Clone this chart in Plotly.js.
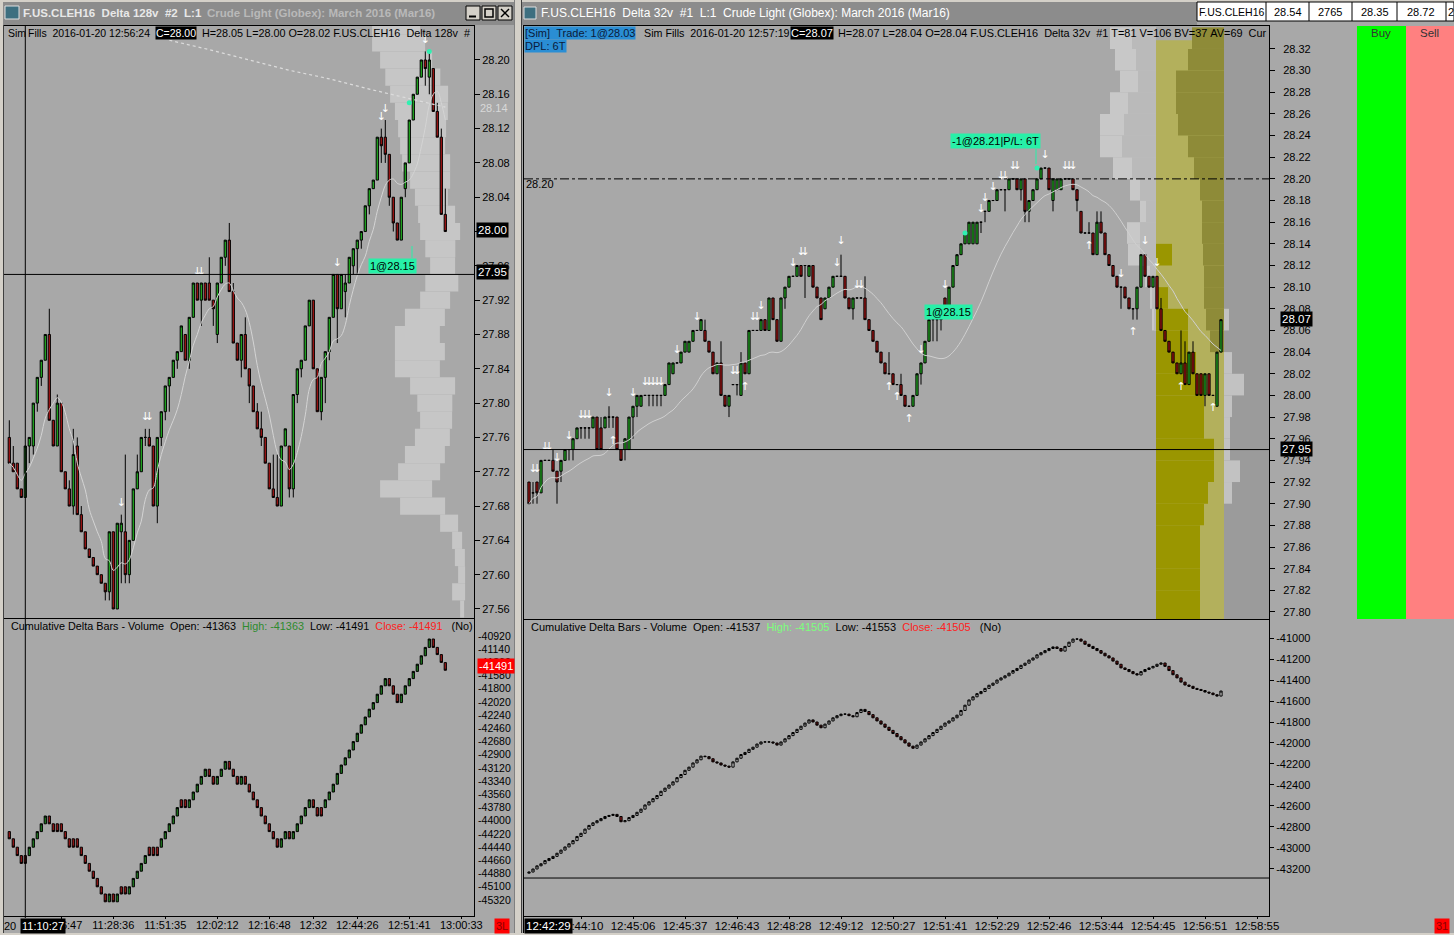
<!DOCTYPE html>
<html><head><meta charset="utf-8">
<script src="https://cdn.plot.ly/plotly-3.0.1.min.js"></script>
<style>html,body{margin:0;padding:0;background:#a8a8a8;overflow:hidden}#chart{width:1454px;height:935px}</style>
</head><body><div id="chart"></div>
<script>
// ================= DATA =================
// Left window: F.US.CLEH16 Delta 128v — price bars
const leftOpen = [27.76,27.73,27.73,27.70,27.69,27.75,27.75,27.80,27.83,27.85,27.88,27.78,27.75,27.80,27.72,27.70,27.68,27.75,27.67,27.65,27.63,27.62,27.61,27.60,27.59,27.58,27.65,27.56,27.65,27.65,27.60,27.64,27.70,27.72,27.76,27.76,27.75,27.68,27.76,27.79,27.82,27.83,27.85,27.86,27.88,27.85,27.90,27.94,27.92,27.94,27.94,27.92,27.88,27.94,27.97,27.99,27.93,27.87,27.85,27.88,27.84,27.82,27.79,27.77,27.76,27.73,27.70,27.69,27.68,27.75,27.75,27.70,27.81,27.84,27.85,27.89,27.92,27.84,27.79,27.83,27.86,27.90,27.95,27.91,27.93,27.94,27.96,27.98,27.99,28.00,28.03,28.05,28.06,28.11,28.11,28.09,28.04,28.01,27.99,28.05,28.08,28.13,28.16,28.18,28.20,28.18,28.19,28.14,28.11,28.02];
const leftHigh = [27.78,27.75,27.73,27.70,27.75,27.76,27.80,27.83,27.85,27.88,27.91,27.78,27.81,27.80,27.72,27.71,27.77,27.76,27.68,27.65,27.63,27.62,27.61,27.60,27.59,27.65,27.65,27.66,27.67,27.74,27.64,27.70,27.74,27.76,27.77,27.77,27.75,27.76,27.79,27.82,27.83,27.85,27.86,27.89,27.88,27.90,27.94,27.94,27.94,27.94,27.97,27.92,27.94,27.97,27.99,28.01,27.94,27.87,27.88,27.90,27.84,27.82,27.80,27.79,27.76,27.73,27.74,27.74,27.75,27.77,27.75,27.81,27.84,27.85,27.89,27.92,27.92,27.84,27.83,27.86,27.90,27.95,27.95,27.95,27.95,27.97,27.98,27.99,28.00,28.03,28.05,28.06,28.11,28.12,28.13,28.09,28.04,28.01,28.04,28.08,28.13,28.16,28.18,28.20,28.21,28.21,28.19,28.15,28.12,28.05];
const leftLow = [27.73,27.72,27.70,27.69,27.69,27.73,27.74,27.79,27.82,27.85,27.78,27.75,27.75,27.72,27.70,27.68,27.67,27.67,27.65,27.63,27.62,27.61,27.60,27.59,27.57,27.57,27.56,27.56,27.59,27.59,27.59,27.64,27.70,27.72,27.75,27.75,27.68,27.66,27.75,27.78,27.79,27.83,27.84,27.86,27.85,27.84,27.90,27.92,27.89,27.92,27.92,27.89,27.87,27.94,27.96,27.93,27.87,27.85,27.83,27.84,27.80,27.79,27.77,27.75,27.73,27.70,27.69,27.68,27.68,27.75,27.69,27.69,27.80,27.83,27.85,27.89,27.84,27.79,27.78,27.80,27.85,27.90,27.87,27.91,27.90,27.94,27.95,27.95,27.98,28.00,28.02,28.05,28.06,28.08,28.08,28.03,28.00,27.99,27.99,28.04,28.08,28.13,28.16,28.18,28.17,28.16,28.14,28.11,28.02,28.00];
const leftClose = [27.73,27.72,27.70,27.69,27.75,27.76,27.80,27.83,27.85,27.88,27.78,27.75,27.80,27.72,27.70,27.68,27.74,27.67,27.65,27.63,27.62,27.61,27.60,27.59,27.58,27.65,27.56,27.66,27.66,27.60,27.64,27.70,27.72,27.76,27.76,27.75,27.68,27.76,27.79,27.82,27.83,27.85,27.86,27.89,27.85,27.90,27.94,27.92,27.94,27.92,27.92,27.91,27.94,27.97,27.99,27.93,27.87,27.85,27.88,27.84,27.82,27.79,27.77,27.76,27.73,27.70,27.69,27.68,27.75,27.77,27.70,27.81,27.84,27.85,27.89,27.92,27.84,27.79,27.83,27.86,27.90,27.95,27.91,27.95,27.94,27.97,27.98,27.99,28.00,28.03,28.05,28.06,28.11,28.10,28.09,28.04,28.01,27.99,28.04,28.08,28.13,28.16,28.18,28.20,28.19,28.20,28.14,28.11,28.02,28.00];
// Left cumulative delta bars
const leftDeltaOpen = [-44180,-44300,-44440,-44580,-44580,-44580,-44440,-44300,-44180,-44050,-43920,-44050,-44050,-44050,-44180,-44300,-44300,-44300,-44440,-44580,-44710,-44840,-44960,-45100,-45220,-45350,-45220,-45350,-45100,-45100,-45220,-45100,-44960,-44840,-44710,-44440,-44440,-44440,-44440,-44300,-44180,-44050,-43920,-43650,-43650,-43780,-43650,-43520,-43390,-43260,-43140,-43260,-43390,-43260,-43140,-43010,-43140,-43260,-43390,-43260,-43390,-43520,-43650,-43780,-43920,-44050,-44180,-44300,-44440,-44300,-44180,-44300,-44180,-44050,-43920,-43780,-43650,-43780,-43780,-43780,-43650,-43520,-43390,-43210,-43070,-42950,-42820,-42680,-42540,-42400,-42270,-42140,-42030,-41890,-41750,-41630,-41750,-41890,-42030,-41890,-41750,-41630,-41510,-41390,-41250,-41110,-40970,-41110,-41230,-41363];
const leftDeltaClose = [-44300,-44440,-44580,-44710,-44710,-44440,-44300,-44180,-44050,-43920,-44050,-44180,-44180,-44180,-44300,-44440,-44440,-44440,-44580,-44710,-44840,-44960,-45100,-45220,-45350,-45220,-45350,-45220,-45220,-45220,-45100,-44960,-44840,-44710,-44580,-44580,-44580,-44580,-44300,-44180,-44050,-43920,-43780,-43780,-43780,-43650,-43520,-43390,-43260,-43140,-43260,-43390,-43260,-43140,-43010,-43140,-43260,-43390,-43260,-43390,-43520,-43650,-43780,-43920,-44050,-44180,-44300,-44440,-44300,-44180,-44300,-44180,-44050,-43920,-43780,-43650,-43780,-43920,-43920,-43650,-43520,-43390,-43210,-43070,-42950,-42820,-42680,-42540,-42400,-42270,-42140,-42030,-41890,-41750,-41630,-41750,-41890,-42030,-41890,-41750,-41630,-41510,-41390,-41250,-41110,-40970,-41110,-41230,-41360,-41491];
// Left dotted reference line (bar index, price)
const leftDotBars = [40,50,60,70,80,90,100,109];
const leftDotVals = [28.223,28.212,28.200,28.188,28.178,28.166,28.155,28.145];
// Left volume profile (price level, start bar, length in bars)
const leftProfPrice = [28.24,28.22,28.20,28.18,28.16,28.14,28.12,28.10,28.08,28.06,28.04,28.02,28.00,27.98,27.96,27.94,27.92,27.90,27.88,27.86,27.84,27.82,27.80,27.78,27.76,27.74,27.72,27.70,27.68,27.66,27.64,27.62,27.60,27.58,27.56];
const leftProfFrom = [90.7,90.7,92.7,94.0,95.2,96.4,97.2,97.7,98.2,100.2,101.4,102.2,102.7,104.0,105.2,104.0,102.7,98.9,96.4,96.4,96.4,100.2,102.0,102.7,101.4,98.9,97.2,92.7,97.7,107.7,110.7,111.4,112.2,110.7,112.7];
const leftProfLen = [12,13.25,13,13.75,14.5,13.25,12,11.25,12,10,8.25,9.25,10,7.5,6.25,8.25,7.5,10,11.25,12.5,11.25,11.25,8.75,8,8.75,10,10.5,13,11.25,4.5,2.5,2.5,1.75,3.25,1];
const leftDownArrows = [28,34,35,47,48,82,93,94,104];
const leftFillBars = [100,105];
const leftFillPrices = [28.15,28.21];
const leftCursorBar = 4;
const leftTimeBars = [13,26,39,52,65,76,87,100,113];
const leftTimeText = ['11:16:47','11:28:36','11:51:35','12:02:12','12:16:48','12:32','12:44:26','12:51:41','13:00:33'];
const leftPriceTicks = [28.20,28.16,28.12,28.08,28.04,28.00,27.96,27.92,27.88,27.84,27.80,27.76,27.72,27.68,27.64,27.60,27.56];
const leftDeltaTicks = [-40920,-41140,-41360,-41580,-41800,-42020,-42240,-42460,-42680,-42900,-43120,-43340,-43560,-43780,-44000,-44220,-44440,-44660,-44880,-45100,-45320];

// Right window: F.US.CLEH16 Delta 32v — price bars
const rightOpen = [27.92,27.91,27.92,27.91,27.94,27.94,27.94,27.93,27.93,27.94,27.95,27.95,27.96,27.97,27.97,27.97,27.97,27.98,27.97,27.97,27.98,27.98,27.98,27.95,27.95,27.95,27.98,27.99,27.99,28.00,28.00,28.00,28.00,28.00,28.00,28.01,28.02,28.03,28.03,28.04,28.04,28.05,28.06,28.06,28.06,28.05,28.04,28.02,28.03,28.00,27.99,28.01,28.01,28.00,28.03,28.02,28.06,28.06,28.06,28.07,28.06,28.09,28.07,28.05,28.09,28.10,28.11,28.11,28.12,28.12,28.11,28.12,28.10,28.09,28.08,28.09,28.10,28.11,28.11,28.11,28.09,28.08,28.09,28.09,28.09,28.07,28.06,28.05,28.04,28.03,28.02,28.02,28.01,28.01,28.00,27.99,27.99,28.00,28.02,28.03,28.05,28.07,28.07,28.07,28.09,28.08,28.10,28.12,28.13,28.14,28.14,28.14,28.14,28.16,28.17,28.17,28.18,28.18,28.19,28.19,28.19,28.20,28.20,28.19,28.20,28.17,28.18,28.19,28.20,28.21,28.21,28.18,28.19,28.19,28.20,28.20,28.20,28.19,28.17,28.15,28.15,28.15,28.13,28.16,28.15,28.13,28.12,28.11,28.10,28.10,28.09,28.08,28.08,28.10,28.13,28.11,28.10,28.11,28.08,28.06,28.05,28.04,28.03,28.02,28.03,28.01,28.04,28.02,28.02,28.00,28.02,28.00,27.99,28.04];
const rightHigh = [27.92,27.92,27.92,27.94,27.94,27.94,27.95,27.93,27.94,27.95,27.95,27.96,27.97,27.97,27.97,27.97,27.98,27.98,27.98,27.98,27.99,27.98,27.98,27.95,27.96,27.98,27.99,28.00,28.00,28.00,28.00,28.00,28.00,28.00,28.01,28.03,28.03,28.03,28.04,28.05,28.05,28.06,28.06,28.07,28.07,28.05,28.04,28.03,28.05,28.00,28.00,28.01,28.01,28.04,28.03,28.06,28.06,28.06,28.07,28.07,28.09,28.09,28.07,28.09,28.10,28.11,28.11,28.12,28.12,28.12,28.12,28.12,28.10,28.09,28.09,28.10,28.11,28.11,28.13,28.11,28.09,28.09,28.09,28.09,28.11,28.07,28.06,28.05,28.04,28.03,28.04,28.02,28.01,28.02,28.00,27.99,28.00,28.02,28.03,28.05,28.07,28.07,28.07,28.08,28.09,28.10,28.12,28.13,28.14,28.15,28.16,28.16,28.16,28.16,28.17,28.18,28.18,28.19,28.19,28.19,28.20,28.20,28.20,28.20,28.20,28.18,28.19,28.20,28.21,28.21,28.21,28.20,28.20,28.20,28.20,28.20,28.20,28.19,28.17,28.15,28.16,28.15,28.17,28.17,28.15,28.13,28.12,28.11,28.10,28.10,28.09,28.08,28.10,28.13,28.13,28.11,28.11,28.11,28.09,28.06,28.05,28.04,28.03,28.06,28.05,28.04,28.05,28.02,28.02,28.02,28.02,28.00,28.04,28.07];
const rightLow = [27.90,27.90,27.90,27.91,27.94,27.94,27.93,27.90,27.92,27.94,27.94,27.94,27.96,27.96,27.96,27.96,27.97,27.95,27.95,27.97,27.97,27.97,27.95,27.94,27.94,27.95,27.96,27.98,27.99,28.00,27.99,27.99,27.99,27.99,28.00,28.01,28.02,28.03,28.03,28.04,28.04,28.05,28.06,28.06,28.05,28.04,28.02,28.02,28.00,27.99,27.98,28.01,28.00,28.00,28.02,28.02,28.06,28.06,28.06,28.06,28.06,28.07,28.05,28.05,28.08,28.10,28.11,28.11,28.11,28.09,28.11,28.10,28.09,28.07,28.08,28.09,28.10,28.11,28.11,28.09,28.08,28.07,28.09,28.09,28.07,28.06,28.05,28.04,28.03,28.02,28.02,28.01,28.01,28.00,27.99,27.99,27.99,28.00,28.01,28.03,28.05,28.05,28.05,28.06,28.08,28.08,28.10,28.12,28.13,28.14,28.14,28.14,28.14,28.15,28.16,28.17,28.18,28.18,28.19,28.17,28.19,28.20,28.19,28.18,28.16,28.16,28.18,28.19,28.20,28.21,28.19,28.17,28.19,28.19,28.20,28.20,28.19,28.17,28.15,28.15,28.15,28.13,28.13,28.15,28.13,28.12,28.11,28.10,28.08,28.09,28.08,28.07,28.07,28.10,28.11,28.10,28.10,28.08,28.06,28.05,28.04,28.03,28.02,28.02,28.01,28.01,28.02,28.00,28.00,27.99,28.00,28.00,27.99,28.04];
const rightClose = [27.90,27.91,27.91,27.94,27.94,27.94,27.93,27.92,27.94,27.95,27.95,27.96,27.97,27.97,27.97,27.97,27.98,27.95,27.95,27.98,27.98,27.98,27.95,27.94,27.96,27.98,27.99,28.00,28.00,28.00,28.00,28.00,28.00,28.00,28.01,28.03,28.03,28.03,28.04,28.05,28.05,28.06,28.06,28.07,28.05,28.04,28.02,28.03,28.00,27.99,28.00,28.01,28.01,28.03,28.02,28.06,28.06,28.06,28.07,28.06,28.09,28.07,28.05,28.09,28.10,28.11,28.11,28.12,28.11,28.12,28.12,28.10,28.09,28.07,28.09,28.10,28.11,28.11,28.11,28.09,28.08,28.09,28.09,28.09,28.07,28.06,28.05,28.04,28.03,28.02,28.02,28.01,28.01,28.00,27.99,27.99,28.00,28.02,28.03,28.05,28.07,28.07,28.07,28.08,28.08,28.10,28.12,28.13,28.14,28.15,28.16,28.16,28.16,28.16,28.17,28.18,28.18,28.19,28.19,28.19,28.20,28.20,28.19,28.20,28.17,28.18,28.19,28.20,28.21,28.21,28.19,28.20,28.20,28.20,28.20,28.20,28.19,28.18,28.15,28.15,28.15,28.13,28.16,28.15,28.13,28.12,28.11,28.10,28.10,28.09,28.08,28.08,28.10,28.13,28.11,28.10,28.11,28.08,28.06,28.05,28.04,28.03,28.02,28.03,28.01,28.04,28.02,28.00,28.00,28.02,28.00,28.00,28.04,28.07];
// Right cumulative delta closes
const rightDeltaClose = [-43229,-43200,-43170,-43150,-43120,-43100,-43080,-43050,-43020,-42990,-42960,-42930,-42890,-42860,-42820,-42785,-42760,-42740,-42720,-42700,-42690,-42680,-42700,-42750,-42740,-42710,-42690,-42660,-42630,-42590,-42560,-42530,-42500,-42460,-42430,-42400,-42370,-42330,-42300,-42260,-42230,-42190,-42160,-42125,-42130,-42150,-42180,-42190,-42210,-42220,-42230,-42180,-42145,-42110,-42090,-42060,-42040,-42010,-41990,-41990,-41990,-42000,-42020,-41990,-41960,-41930,-41900,-41870,-41840,-41810,-41780,-41800,-41830,-41855,-41820,-41790,-41760,-41740,-41725,-41725,-41740,-41750,-41710,-41680,-41700,-41730,-41760,-41790,-41820,-41850,-41880,-41910,-41940,-41970,-42000,-42030,-42050,-42020,-41990,-41960,-41930,-41900,-41870,-41840,-41810,-41790,-41760,-41735,-41690,-41640,-41590,-41560,-41530,-41510,-41480,-41450,-41430,-41400,-41380,-41360,-41335,-41310,-41290,-41260,-41240,-41210,-41190,-41160,-41140,-41120,-41100,-41085,-41100,-41125,-41080,-41040,-41010,-41010,-41030,-41060,-41080,-41100,-41120,-41145,-41170,-41190,-41220,-41250,-41285,-41300,-41320,-41340,-41352,-41320,-41300,-41285,-41270,-41250,-41238,-41270,-41310,-41350,-41380,-41420,-41448,-41460,-41480,-41490,-41500,-41515,-41524,-41540,-41553,-41505];
const rightDeltaFirstOpen = -43240;
const rightDownArrows = [1,2,4,5,7,10,13,14,15,20,26,29,30,31,32,33,37,42,51,52,56,57,58,66,68,69,77,78,82,83,98,104,113,114,116,118,119,121,122,129,134,135,136,148,154,157];
const rightUpArrows = [21,54,90,92,95,140,151,163,171];
const rightFillBars = [109,127];
const rightFillPrices = [28.15,28.21];
// Session (current) profile zone
const zoneStartBar = 157, zoneEndBar = 174;
// Earlier-session profile, left of zone (price, length in bars)
const rightProfPrice = [28.33,28.31,28.29,28.27,28.25,28.23,28.21,28.19,28.17,28.15,28.13,28.11,28.09,28.07];
const rightProfLen = [11.5,10.25,9,11.5,14,14,10.75,6.5,4,7.25,7,2.75,1.5,1];
const rightProfInnerLen = [6,5,4.5,7,8,8.5,6,4,2.5,4,4,1.5,1,0.5];
// Current zone profile: upper (sell side) and lower (buy side)
const zoneTopPrice = [28.33,28.31,28.29,28.27,28.25,28.23,28.21,28.19,28.17,28.15,28.13,28.11,28.09,28.07,28.05];
const zoneTopLen = [8,9,12,12,11.5,9,7.5,6,5.5,5.5,5.25,5,5,4.5,3.5];
const zoneBotPrice = [28.13,28.09,28.07,28.05,28.03,28.01,27.99,27.97,27.95,27.93,27.91,27.89,27.87,27.85,27.83,27.81,27.79];
const zoneBotLen = [4,3,8,8,10,12,12,12,14.5,14.5,13,12,11,11,11,11,11];
const outerPrice = [28.07,28.03,28.01,27.99,27.97,27.95,27.93,27.91];
const outerLen = [1.25,2,5,2,1.5,1.5,4,2];
const rightTimeBars = [13,26,39,52,65,78,91,104,117,130,143,156,169,182];
const rightTimeText = ['12:44:10','12:45:06','12:45:37','12:46:43','12:48:28','12:49:12','12:50:27','12:51:41','12:52:29','12:52:46','12:53:44','12:54:45','12:56:51','12:58:55'];
const rightPriceTicks = [28.32,28.30,28.28,28.26,28.24,28.22,28.20,28.18,28.16,28.14,28.12,28.10,28.08,28.06,28.04,28.02,28.00,27.98,27.96,27.94,27.92,27.90,27.88,27.86,27.84,27.82,27.80];
const rightDeltaTicks = [-41000,-41200,-41400,-41600,-41800,-42000,-42200,-42400,-42600,-42800,-43000,-43200];
// Current-value boxes on the axes
const leftLastPrice = 28.00, leftCursorPrice = 27.95, rightLastPrice = 28.07;

// ================= HELPERS =================
const W = 1454, H = 935;
const P = x => x / W;
const Q = y => 1 - y / H;
const idx = a => a.map((_, i) => i);
function sma(a, n) { return a.map((_, i) => { const s = Math.max(0, i - n + 1); let t = 0; for (let j = s; j <= i; j++) t += a[j]; return t / (i - s + 1); }); }
const FONT = 'Liberation Sans, Arial, sans-serif';
const NB = s => s.replace(/ /g, '\u00a0');
const BG = '#a8a8a8';

const rightDeltaOpen = rightDeltaClose.map((v, i) => i === 0 ? rightDeltaFirstOpen : rightDeltaClose[i - 1]);
const hiOf = (o, c) => o.map((v, i) => Math.max(v, c[i]));
const loOf = (o, c) => o.map((v, i) => Math.min(v, c[i]));

const traces = [];
// Left profile
traces.push({type:'bar', orientation:'h', xaxis:'x', yaxis:'y', y:leftProfPrice, x:leftProfLen, base:leftProfFrom, width:0.02,
  marker:{color:'#c6c6c6', line:{width:0}}, hoverinfo:'skip'});
// Right profiles
traces.push({type:'bar', orientation:'h', xaxis:'x3', yaxis:'y3', y:rightProfPrice, x:rightProfLen.map(v=>-v), base:zoneStartBar-0.25, width:0.02,
  marker:{color:'#c8c8c8', line:{width:0}}, hoverinfo:'skip'});
traces.push({type:'bar', orientation:'h', xaxis:'x3', yaxis:'y3', y:rightProfPrice, x:rightProfInnerLen.map(v=>-v), base:zoneStartBar-0.25, width:0.02,
  marker:{color:'#bababa', line:{width:0}}, hoverinfo:'skip'});
traces.push({type:'bar', orientation:'h', xaxis:'x3', yaxis:'y3', y:zoneTopPrice, x:zoneTopLen.map(v=>-v), base:zoneEndBar-0.25, width:0.02,
  marker:{color:'#8e8b38', line:{width:0}}, hoverinfo:'skip'});
traces.push({type:'bar', orientation:'h', xaxis:'x3', yaxis:'y3', y:zoneBotPrice, x:zoneBotLen, base:zoneStartBar-0.25, width:0.02,
  marker:{color:'#9a9600', line:{width:0}}, hoverinfo:'skip'});
traces.push({type:'bar', orientation:'h', xaxis:'x3', yaxis:'y3', y:outerPrice, x:outerLen, base:zoneEndBar-0.25, width:0.02,
  marker:{color:'#c2c2c2', line:{width:0}}, hoverinfo:'skip'});

// Moving averages / reference lines
traces.push({type:'scatter', mode:'lines', xaxis:'x', yaxis:'y', x:leftDotBars, y:leftDotVals, line:{color:'#dcdcdc', width:1.2, dash:'dot'}, hoverinfo:'skip'});
traces.push({type:'scatter', mode:'lines', xaxis:'x', yaxis:'y', x:idx(leftClose), y:sma(leftClose, 8), line:{color:'#d4d4d4', width:1, shape:'spline'}, hoverinfo:'skip'});
traces.push({type:'scatter', mode:'lines', xaxis:'x3', yaxis:'y3', x:idx(rightClose), y:sma(rightClose, 20), line:{color:'#d0d0d0', width:1, shape:'spline'}, hoverinfo:'skip'});

// Candles
const candle = (xa, ya, o, h, l, c, up, dn) => ({type:'candlestick', xaxis:xa, yaxis:ya, x:idx(o), open:o, high:h, low:l, close:c,
  increasing:{fillcolor:up, line:{color:'#000', width:1}}, decreasing:{fillcolor:dn, line:{color:'#000', width:1}}, whiskerwidth:0, hoverinfo:'skip'});
traces.push(candle('x','y', leftOpen, leftHigh, leftLow, leftClose, '#22b022', '#a51414'));
traces.push(candle('x3','y3', rightOpen, rightHigh, rightLow, rightClose, '#22b022', '#a51414'));
traces.push(candle('x2','y2', leftDeltaOpen, hiOf(leftDeltaOpen,leftDeltaClose), loOf(leftDeltaOpen,leftDeltaClose), leftDeltaClose, '#1e7a1e', '#9c1818'));
traces.push(candle('x4','y4', rightDeltaOpen, hiOf(rightDeltaOpen,rightDeltaClose), loOf(rightDeltaOpen,rightDeltaClose), rightDeltaClose, '#c8c8c8', '#8b1a1a'));

// Arrows
traces.push({type:'scatter', mode:'text', xaxis:'x', yaxis:'y', x:leftDownArrows, y:leftDownArrows.map(k=>leftHigh[k]+0.013), text:leftDownArrows.map(()=>'↓'),
  textfont:{family:'DejaVu Sans', size:11, color:'#ffffff'}, hoverinfo:'skip'});
traces.push({type:'scatter', mode:'text', xaxis:'x3', yaxis:'y3', x:rightDownArrows, y:rightDownArrows.map(k=>rightHigh[k]+0.012), text:rightDownArrows.map(()=>'↓'),
  textfont:{family:'DejaVu Sans', size:11, color:'#ffffff'}, hoverinfo:'skip'});
traces.push({type:'scatter', mode:'text', xaxis:'x3', yaxis:'y3', x:rightUpArrows, y:rightUpArrows.map(k=>rightLow[k]-0.012), text:rightUpArrows.map(()=>'↑'),
  textfont:{family:'DejaVu Sans', size:11, color:'#ffffff'}, hoverinfo:'skip'});
// Fills
traces.push({type:'scatter', mode:'markers', xaxis:'x', yaxis:'y', x:leftFillBars, y:leftFillPrices, marker:{color:'#30f0b0', size:5}, hoverinfo:'skip'});
traces.push({type:'scatter', mode:'markers', xaxis:'x3', yaxis:'y3', x:rightFillBars, y:rightFillPrices, marker:{color:'#30f0b0', size:5}, hoverinfo:'skip'});

// ================= AXES =================
const baseAx = {showgrid:false, zeroline:false, showline:true, mirror:true, linecolor:'#000', linewidth:1, fixedrange:true};
const xNoLab = (dom, rng, anchor) => Object.assign({}, baseAx, {domain:dom, range:rng, anchor, showticklabels:false, ticks:'', rangeslider:{visible:false}});
const xLab = (dom, rng, anchor, tv, tt, fs) => Object.assign({}, baseAx, {domain:dom, range:rng, anchor, tickmode:'array', tickvals:tv, ticktext:tt,
  ticks:'outside', ticklen:2, tickcolor:'#000', ticklabelstandoff:-3, tickfont:{family:FONT, size:fs, color:'#000'}, rangeslider:{visible:false}});
const yAx = (dom, rng, anchor, tv, tt, fs, tl, so) => Object.assign({}, baseAx, {domain:dom, range:rng, anchor, side:'right', tickmode:'array', tickvals:tv, ticktext:tt,
  ticks:tl > 0 ? 'outside' : '', ticklen:tl, tickcolor:'#000', ticklabelstandoff:so, tickfont:{family:FONT, size:fs, color:'#000'}});

const fmtP = v => v.toFixed(2);
const fmtD = v => String(v);
// a tick whose value sits exactly under a value box is drawn by the box instead
const leftPriceText = leftPriceTicks.map(v => Math.abs(v - leftLastPrice) < 1e-9 ? '' : fmtP(v));

const layout = {
  width:W, height:H, margin:{l:0,r:0,t:0,b:0}, paper_bgcolor:BG, plot_bgcolor:BG, showlegend:false, barmode:'overlay', boxgap:0.2,
  xaxis: xNoLab([P(4),P(474)], [-1.325,116.175], 'y'),
  yaxis: yAx([Q(618),Q(26)], [27.5495,28.2396], 'x', leftPriceTicks, leftPriceText, 11, 5, 0),
  xaxis2: xLab([P(4),P(474)], [-1.325,116.175], 'y2', leftTimeBars, leftTimeText, 11),
  yaxis2: yAx([Q(916),Q(619)], [-45586.7,-40636.7], 'x2', leftDeltaTicks, leftDeltaTicks.map(fmtD), 10.5, 0, 1),
  xaxis3: xNoLab([P(524),P(1269)], [-1.25,185], 'y3'),
  yaxis3: yAx([Q(619),Q(26)], [27.7935,28.3412], 'x3', rightPriceTicks, rightPriceTicks.map(fmtP), 11, 5, 6),
  xaxis4: xLab([P(524),P(1269)], [-1.25,185], 'y4', rightTimeBars, rightTimeText, 11.5),
  yaxis4: yAx([Q(916),Q(620)], [-43647.7,-40828.6], 'x4', rightDeltaTicks, rightDeltaTicks.map(fmtD), 11, 4, 0),
  shapes: [], annotations: []
};
const S = layout.shapes, A = layout.annotations;
const rectPx = (x0,y0,x1,y1,fill,line) => S.push({type:'rect', xref:'paper', yref:'paper', x0:P(x0), x1:P(x1), y0:Q(y1), y1:Q(y0), fillcolor:fill, line:line||{width:0}, layer:'above'});
const linePx = (x0,y0,x1,y1,color,w) => S.push({type:'line', xref:'paper', yref:'paper', x0:P(x0), x1:P(x1), y0:Q(y0), y1:Q(y1), line:{color, width:w||1}, layer:'above'});

// Data-referenced zones (below traces)
S.push({type:'rect', xref:'x3', yref:'y3', x0:zoneStartBar-0.25, x1:zoneEndBar-0.25, y0:27.7935, y1:28.328, fillcolor:'#b3b05c', line:{width:0}, layer:'below'});
S.push({type:'rect', xref:'x3', yref:'y3', x0:zoneEndBar-0.25, x1:185, y0:27.7935, y1:28.3412, fillcolor:'#9b9b9b', line:{width:0}, layer:'below'});
// Reference lines
S.push({type:'line', xref:'x domain', yref:'y', x0:0, x1:1, y0:leftCursorPrice, y1:leftCursorPrice, line:{color:'#000', width:1}});
S.push({type:'line', xref:'x3 domain', yref:'y3', x0:0, x1:1, y0:27.95, y1:27.95, line:{color:'#000', width:1}});
S.push({type:'line', xref:'x3 domain', yref:'y3', x0:0, x1:1, y0:28.20, y1:28.20, line:{color:'#000', width:1, dash:'dashdot'}});
S.push({type:'line', xref:'x4 domain', yref:'y4', x0:0, x1:1, y0:-43286, y1:-43286, line:{color:'#000', width:1}});
S.push({type:'line', xref:'x', yref:'paper', x0:leftCursorBar, x1:leftCursorBar, y0:Q(918), y1:Q(26), line:{color:'#000', width:1}});

// Window chrome
rectPx(0,0,515,25,'#8c8c8c');
rectPx(520,0,1197,25,'#8c8c8c');
rectPx(0,0,1454,2,'#d4d0c8');
rectPx(514,0,522,935,'#d4d0c8');
linePx(514.5,0,514.5,935,'#808080',1);
linePx(521.5,0,521.5,935,'#404040',1);
linePx(523.5,25,523.5,935,'#000',1);
rectPx(0,0,3,935,'#d4d0c8');
linePx(3.5,25,3.5,935,'#404040',1);
rectPx(0,933,1454,935,'#d4d0c8');
// title icons
rectPx(5,6,19,19,'#3d6f80',{color:'#e0e0e0',width:1});
rectPx(524,7,536,19,'#3d6f80',{color:'#e0e0e0',width:1});
// title buttons
[[466,480],[482,496],[498,512]].forEach(b=>rectPx(b[0],6,b[1],20,'#d4d0c8',{color:'#000',width:1}));
linePx(469,16.5,476,16.5,'#000',2);
rectPx(485,9,493,17,'rgba(0,0,0,0)',{color:'#000',width:1.5});
linePx(501,9,509,17,'#000',1.5); linePx(509,9,501,17,'#000',1.5);
// top-right quote table
rectPx(1197,2,1454,21,'#ffffff',{color:'#000',width:1});
[1266,1309,1352,1397,1446].forEach(x=>linePx(x,2,x,21,'#000',1));
// Buy / Sell
rectPx(1357,26,1406,619,'#00ff00');
rectPx(1406,26,1454,619,'#ff8080');

// ================= TEXT =================
const ann = (text, x, y, o) => A.push(Object.assign({text:NB(text), xref:'paper', yref:'paper', x:P(x), y:Q(y), xanchor:'left', yanchor:'middle', showarrow:false,
  font:{family:FONT, size:11, color:'#000'}, borderpad:0}, o||{}));
// titles
ann('F.US.CLEH16  Delta 128v  #2  L:1', 22, 13, {font:{family:FONT, size:11.5, color:'#e8e8e8', weight:700}});
ann('Crude Light (Globex): March 2016 (Mar16)', 206, 13, {font:{family:FONT, size:11.5, color:'#b9b9b9', weight:700}});
ann('F.US.CLEH16  Delta 32v  #1  L:1  Crude Light (Globex): March 2016 (Mar16)', 540, 13, {font:{family:FONT, size:12, color:'#ffffff'}});
// table
[['F.US.CLEH16',1232,10.5],['28.54',1288,11],['2765',1330,11],['28.35',1375,11],['28.72',1421,11],['2',1451,11]].forEach(t=>ann(t[0], t[1], 12, {xanchor:'center', font:{family:FONT, size:t[2], color:'#000'}}));
// left header
ann('Sim', 7, 33, {font:{family:FONT, size:10.5, color:'#000'}});
ann('Fills  2016-01-20 12:56:24', 27, 33, {font:{family:FONT, size:10.5, color:'#000'}});
ann('C=28.00', 155, 33, {bgcolor:'#000', font:{family:FONT, size:10.5, color:'#fff'}});
ann('H=28.05 L=28.00 O=28.02 F.US.CLEH16  Delta 128v  #', 201, 33, {font:{family:FONT, size:10.8, color:'#000'}});
// right header
ann('[Sim]  Trade: 1@28.03', 524, 33, {bgcolor:'#2a8ed4', font:{family:FONT, size:11, color:'#0a1a3a'}});
ann('DPL: 6T', 524, 46, {bgcolor:'#2a8ed4', font:{family:FONT, size:11, color:'#0a1a3a'}});
ann('Sim Fills  2016-01-20 12:57:19', 643, 33, {font:{family:FONT, size:10.7, color:'#000'}});
ann('C=28.07', 790, 33, {bgcolor:'#000', font:{family:FONT, size:11, color:'#fff'}});
ann('H=28.07 L=28.04 O=28.04 F.US.CLEH16  Delta 32v  #1 T=81 V=106 BV=37 AV=69  Cur', 837, 33, {font:{family:FONT, size:10.9, color:'#000'}});
ann('Buy', 1381, 33, {xanchor:'center', font:{family:FONT, size:11.5, color:'#333'}});
ann('Sell', 1429, 33, {xanchor:'center', font:{family:FONT, size:11.5, color:'#333'}});
// delta headers
A.push({text:NB('Cumulative Delta Bars - Volume  Open: -41363  ')+'<span style="color:#2e8b2e">'+NB('High: -41363')+'</span>'+NB('  Low: -41491  ')+'<span style="color:#ff2020">'+NB('Close: -41491')+'</span>'+NB('   (No)'),
  xref:'paper', yref:'paper', x:P(9), y:Q(626), xanchor:'left', yanchor:'middle', showarrow:false, font:{family:FONT, size:10.8, color:'#000'}});
A.push({text:NB('Cumulative Delta Bars - Volume  Open: -41537  ')+'<span style="color:#7cff7c">'+NB('High: -41505')+'</span>'+NB('  Low: -41553  ')+'<span style="color:#ff2020">'+NB('Close: -41505')+'</span>'+NB('   (No)'),
  xref:'paper', yref:'paper', x:P(529), y:Q(627), xanchor:'left', yanchor:'middle', showarrow:false, font:{family:FONT, size:11, color:'#000'}});
// axis value boxes
ann('28.14', 479, 108, {font:{family:FONT, size:11, color:'#d8d8d8'}});
ann(fmtP(leftLastPrice), 476, 230, {bgcolor:'#000', borderpad:1, font:{family:FONT, size:11.5, color:'#fff'}});
ann(fmtP(leftCursorPrice), 476, 272, {bgcolor:'#000', borderpad:1, font:{family:FONT, size:11.5, color:'#fff'}});
ann('-41491', 477, 666, {bgcolor:'#ff0000', borderpad:1, font:{family:FONT, size:11, color:'#fff'}});
ann(fmtP(rightLastPrice), 1280, 319, {bgcolor:'#000', borderpad:1, font:{family:FONT, size:11.5, color:'#fff'}});
ann('27.95', 1280, 449, {bgcolor:'#000', borderpad:1, font:{family:FONT, size:11.5, color:'#fff'}});
ann('28.20', 525, 184, {font:{family:FONT, size:11, color:'#000'}});
// trade labels
ann('1@28.15', 368, 266, {bgcolor:'#28f0a8', borderpad:1, font:{family:FONT, size:11, color:'#000'}});
ann('1@28.15', 924, 312, {bgcolor:'#28f0a8', borderpad:1, font:{family:FONT, size:11, color:'#000'}});
ann('-1@28.21|P/L: 6T', 950, 141, {bgcolor:'#28f0a8', borderpad:1, font:{family:FONT, size:11, color:'#000'}});
linePx(1036,149,1036,164,'#28f0a8',1);
linePx(412,246,412,258,'#28f0a8',1);
// bottom strip labels
ann('20', 3, 926);
ann('11:10:27', 20, 926, {bgcolor:'#000', borderpad:1, font:{family:FONT, size:11, color:'#fff'}});
ann('3L', 494, 926, {bgcolor:'#ff0000', borderpad:1, font:{family:FONT, size:11, color:'#8b0000'}});
ann('12:42:29', 524, 926, {bgcolor:'#000', borderpad:1, font:{family:FONT, size:11.5, color:'#fff'}});
ann('31', 1434, 926, {bgcolor:'#ff0000', borderpad:1, font:{family:FONT, size:11, color:'#8b0000'}});

Plotly.newPlot('chart', traces, layout, {staticPlot:true, displayModeBar:false});
</script>
</body></html>
